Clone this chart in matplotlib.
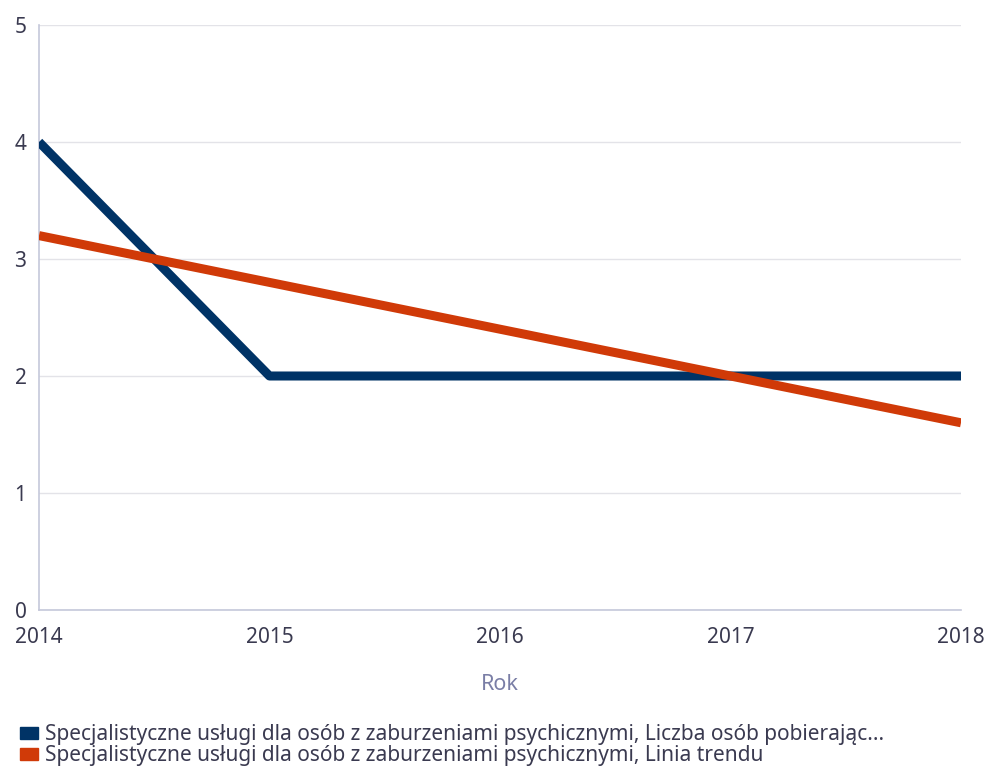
import matplotlib
matplotlib.use("Agg")
import matplotlib.pyplot as plt
from matplotlib.patches import Patch

years = [2014, 2015, 2016, 2017, 2018]
liczba = [4, 2, 2, 2, 2]
trend = [3.2, 2.8, 2.4, 2.0, 1.6]
labels = [
    "Specjalistyczne usługi dla osób z zaburzeniami psychicznymi, Liczba osób pobierając...",
    "Specjalistyczne usługi dla osób z zaburzeniami psychicznymi, Linia trendu",
]
colors = ["#003366", "#d03a08"]

plt.rcParams['font.family'] = ['Noto Sans', 'DejaVu Sans']
fig = plt.figure(figsize=(9.84, 7.66), dpi=100)
ax = fig.add_axes([39/984, 1-610/766, (961-39)/984, (610-25)/766])

ax.plot(years, liczba, color=colors[0], lw=6.5, solid_capstyle='butt', zorder=3)
ax.plot(years, trend, color=colors[1], lw=6.5, solid_capstyle='butt', zorder=4)

ax.set_xlim(2014, 2018)
ax.set_ylim(0, 5)
ax.set_xticks(years)
ax.set_yticks([0, 1, 2, 3, 4, 5])
ax.grid(axis='y', color='#e3e3e8', lw=1)
ax.set_axisbelow(True)
for s in ['top', 'right']:
    ax.spines[s].set_visible(False)
for s in ['left', 'bottom']:
    ax.spines[s].set_color('#c5c8da')
    ax.spines[s].set_linewidth(1.2)
ax.tick_params(length=0, labelsize=15, labelcolor='#3a3a50')
ax.tick_params(axis='x', pad=12)
ax.tick_params(axis='y', pad=9)
ax.set_xlabel("Rok", fontsize=15.5, color='#7a7ea6', labelpad=19)

handles = [Patch(color=c) for c in colors]
fig.legend(handles, labels, loc='upper left', bbox_to_anchor=(12/984, 1-716/766),
           frameon=False, fontsize=15, labelcolor='#3a3a50', handlelength=0.85,
           handleheight=0.55, handletextpad=0.35, labelspacing=0.0, borderaxespad=0)

fig.savefig("out.png", dpi=100)
